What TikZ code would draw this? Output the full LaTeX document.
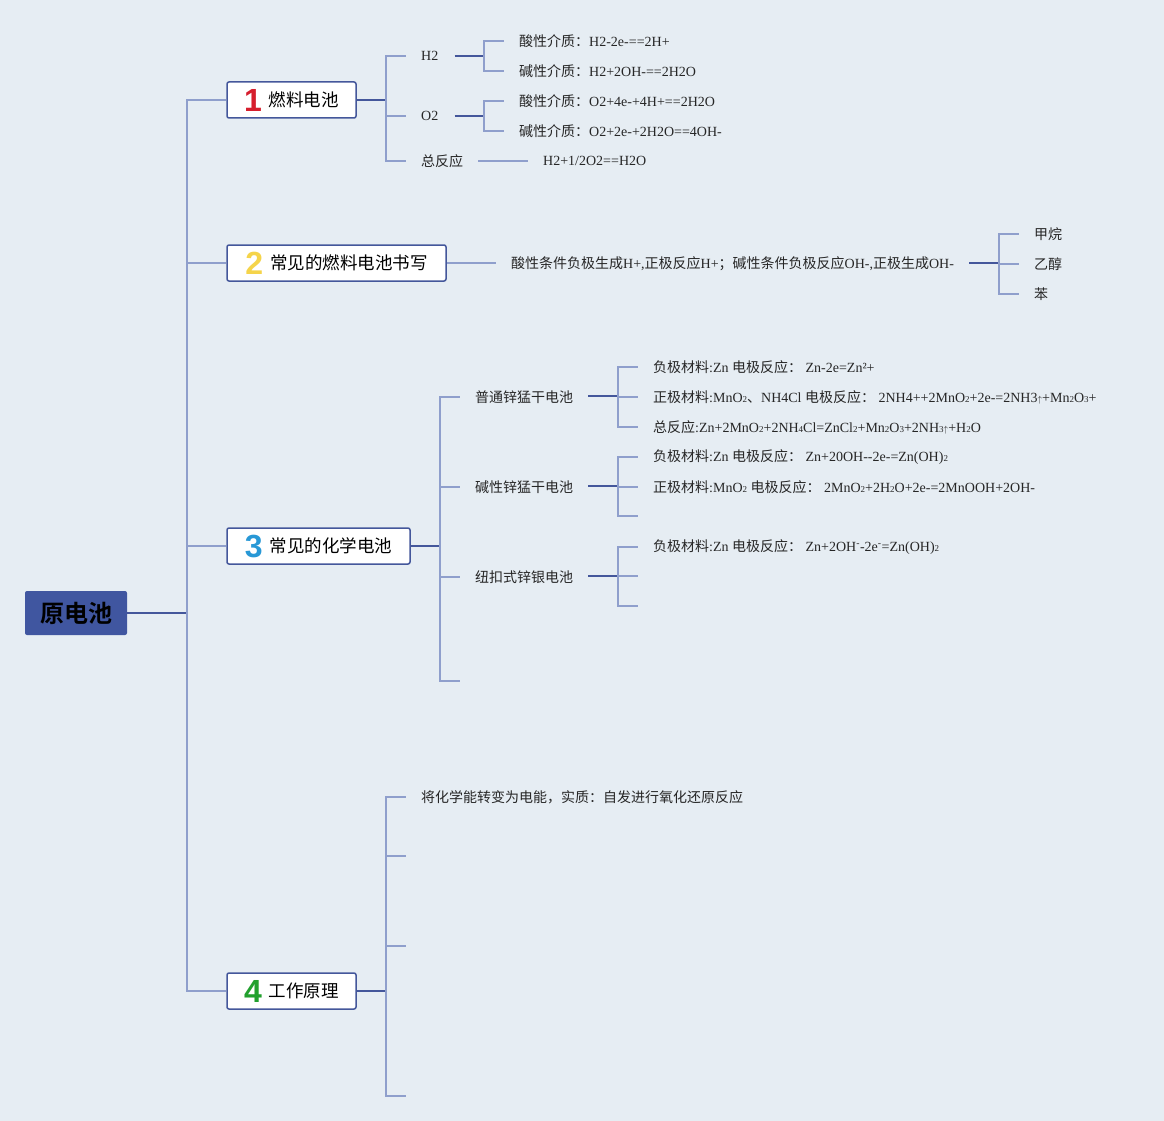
\documentclass[tikz,border=0pt]{standalone}
\usepackage{fontspec}
\setmainfont{Liberation Serif}
\newfontfamily\cjk{Noto Sans CJK SC}[BoldFont={Noto Sans CJK SC Bold}]
\newfontfamily\numfont{Liberation Sans}
\definecolor{cbg}{RGB}{230,237,243}
\definecolor{cdark}{RGB}{68,87,155}
\definecolor{clight}{RGB}{143,159,204}
\definecolor{croot}{RGB}{64,86,160}
\definecolor{cone}{RGB}{214,30,45}
\definecolor{ctwo}{RGB}{245,212,74}
\definecolor{cthree}{RGB}{40,152,214}
\definecolor{cfour}{RGB}{34,160,46}
\newcommand{\z}[1]{{\cjk #1}}
\newcommand{\sub}[1]{{\fontsize{9}{9}\selectfont #1}}
\newcommand{\up}{{\fontsize{9}{9}\selectfont$\uparrow$}}
\newcommand{\num}[2]{\raisebox{-5pt}{\numfont\bfseries\fontsize{32}{32}\selectfont\color{#1}#2}\hspace{7pt}}
\tikzset{mindmap/.style={x=1pt,y=-1pt},
  rootbox/.style={fill=croot,rounded corners=2pt,minimum width=102pt,minimum height=44pt,
    inner sep=0pt,font=\cjk\bfseries\fontsize{24}{28}\selectfont},
  topic/.style={draw=cdark,line width=1.5pt,fill=white,rounded corners=2pt,minimum height=36pt,
    inner sep=0pt,text height=17pt,text depth=4pt,font=\cjk\fontsize{17.5}{20}\selectfont},
  leaf/.style={anchor=west,inner sep=0pt,text=black!85,font=\fontsize{14}{16}\selectfont},
  dline/.style={cdark,line width=1.6pt},
  lline/.style={clight,line width=1.4pt}}

\begin{document}
\begin{tikzpicture}[mindmap]
    \fill[cbg] (0,0) rectangle (1164,1121);
    \useasboundingbox (0,0) rectangle (1164,1121);
    % root and main topics
    \node[rootbox] (root) at (76,613) {原电池};
    \node[topic,minimum width=129pt] (fuel) at (291.5,100) {\num{cone}{1}燃料电池};
    \node[topic,minimum width=219pt] (write) at (336.5,263) {\num{ctwo}{2}常见的燃料电池书写};
    \node[topic,minimum width=183pt] (chem) at (318.5,546) {\num{cthree}{3}常见的化学电池};
    \node[topic,minimum width=129pt] (work) at (291.5,991) {\num{cfour}{4}工作原理};
    \coordinate (j0) at (187,613);
    \draw[dline] (root.east) -- (j0);
    \foreach \t in {fuel,write,chem,work} \draw[lline] (j0) |- (\t.west); % trunk
    % 1 fuel cell
    \node[leaf] (h2) at (421,56) {H2};
    \node[leaf] (o2) at (421,116) {O2};
    \node[leaf] (tot) at (421,161) {\z{总反应}};
    \coordinate (j1) at (386,100);
    \draw[dline] (fuel.east) -- (j1);
    \foreach \t in {h2,o2,tot} \draw[lline] (j1) |- ([xshift=-15pt]\t.west);
    \node[leaf] (h2a) at (519,41) {\z{酸性介质：}H2-2e-==2H+};
    \node[leaf] (h2b) at (519,71) {\z{碱性介质：}H2+2OH-==2H2O};
    \node[leaf] (o2a) at (519,101) {\z{酸性介质：}O2+4e-+4H+==2H2O};
    \node[leaf] (o2b) at (519,131) {\z{碱性介质：}O2+2e-+2H2O==4OH-};
    \node[leaf] (totr) at (543,161) {H2+1/2O2==H2O};
    \coordinate (jh) at (484,56);
    \coordinate (jo) at (484,116);
    \draw[dline] ([xshift=16pt]h2.east |- jh) -- (jh);
    \draw[dline] ([xshift=16pt]o2.east |- jo) -- (jo);
    \foreach \t in {h2a,h2b} \draw[lline] (jh) |- ([xshift=-15pt]\t.west);
    \foreach \t in {o2a,o2b} \draw[lline] (jo) |- ([xshift=-15pt]\t.west);
    \draw[lline] ([xshift=15pt]tot.east) -- ([xshift=-15pt]totr.west);
    % 2 writing
    \node[leaf] (cond) at (511,264) {\z{酸性条件负极生成}H+,\z{正极反应}H+\z{；碱性条件负极反应}OH-,\z{正极生成}OH-};
    \draw[lline] (write.east) -- ([xshift=-15pt]cond.west |- write.east);
    \node[leaf] (ch4) at (1034,234) {\z{甲烷}};
    \node[leaf] (eth) at (1034,264) {\z{乙醇}};
    \node[leaf] (ben) at (1034,294) {\z{苯}};
    \coordinate (jc) at (999,263);
    \draw[dline] ([xshift=15pt]cond.east |- jc) -- (jc);
    \foreach \t in {ch4,eth,ben} \draw[lline] (jc) |- ([xshift=-15pt]\t.west);
    % 3 chemical cells
    \node[leaf] (pt) at (475,397) {\z{普通锌猛干电池}};
    \node[leaf] (jx) at (475,487) {\z{碱性锌猛干电池}};
    \node[leaf] (nk) at (475,577) {\z{纽扣式锌银电池}};
    \coordinate (e3) at (460,681);
    \coordinate (j3) at (440,546);
    \draw[dline] (chem.east) -- (j3);
    \foreach \t in {pt,jx,nk} \draw[lline] (j3) |- ([xshift=-15pt]\t.west);
    \draw[lline] (j3) |- (e3);
    \node[leaf] (pt1) at (653,367) {\z{负极材料}:Zn \z{电极反应：} Zn-2e=Zn²+};
    \node[leaf] (pt2) at (653,397) {\z{正极材料}:MnO\sub{2}\z{、}NH4Cl \z{电极反应：} 2NH4++2MnO\sub{2}+2e-=2NH3\up+Mn\sub{2}O\sub{3}+};
    \node[leaf] (pt3) at (653,427) {\z{总反应}:Zn+2MnO\sub{2}+2NH\sub{4}Cl=ZnCl\sub{2}+Mn\sub{2}O\sub{3}+2NH\sub{3}\up+H\sub{2}O};
    \node[leaf] (jx1) at (653,457) {\z{负极材料}:Zn \z{电极反应：} Zn+20OH-{}-2e-=Zn(OH)\sub{2}};
    \node[leaf] (jx2) at (653,487) {\z{正极材料}:MnO\sub{2} \z{电极反应：} 2MnO\sub{2}+2H\sub{2}O+2e-=2MnOOH+2OH-};
    \node[leaf] (nk1) at (653,547) {\z{负极材料}:Zn \z{电极反应：} Zn+2OH\textsuperscript{-}-2e\textsuperscript{-}=Zn(OH)\sub{2}};
    \coordinate (jp) at (618,396);
    \coordinate (jk) at (618,486);
    \coordinate (jn) at (618,576);
    \coordinate (ek) at (638,516);
    \coordinate (en1) at (638,576);
    \coordinate (en2) at (638,606);
    \draw[dline] ([xshift=15pt]pt.east |- jp) -- (jp);
    \draw[dline] ([xshift=15pt]jx.east |- jk) -- (jk);
    \draw[dline] ([xshift=15pt]nk.east |- jn) -- (jn);
    \foreach \t in {pt1,pt2,pt3} \draw[lline] (jp) |- ([xshift=-15pt]\t.west);
    \foreach \t in {jx1,jx2} \draw[lline] (jk) |- ([xshift=-15pt]\t.west);
    \draw[lline] (jk) |- (ek);
    \draw[lline] (jn) |- ([xshift=-15pt]nk1.west);
    \draw[lline] (jn) -- (en1);
    \draw[lline] (jn) |- (en2);
    % 4 working principle
    \node[leaf] (ess) at (421,797) {\z{将化学能转变为电能，实质：自发进行氧化还原反应}};
    \coordinate (j4) at (386,991);
    \draw[dline] (work.east) -- (j4);
    \draw[lline] (j4) |- ([xshift=-15pt]ess.west);
    \foreach \yy [count=\i] in {856,946,1096} {
      \coordinate (w\i) at (406,\yy);
      \draw[lline] (j4) |- (w\i);
    }
\end{tikzpicture}
\end{document}
